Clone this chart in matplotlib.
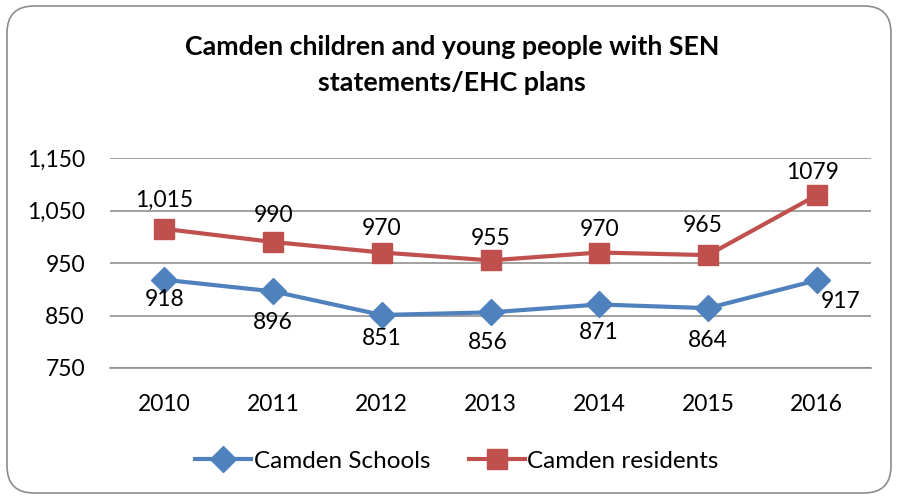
import matplotlib.pyplot as plt
from matplotlib.patches import FancyBboxPatch

plt.rcParams['font.family'] = ['Lato', 'DejaVu Sans']

# data
years = ['2010', '2011', '2012', '2013', '2014', '2015', '2016']
schools = [918, 896, 851, 856, 871, 864, 917]
residents = [1015, 990, 970, 955, 970, 965, 1079]
resident_labels = ['1,015', '990', '970', '955', '970', '965', '1079']
y_ticks = [750, 850, 950, 1050, 1150]
y_tick_labels = ['750', '850', '950', '1,050', '1,150']

# label offsets in pixels (dx, dy)
school_offsets = [(0, -20), (0, -31), (0, -24), (-3, -30), (0, -28), (0, -32), (24, -21)]
resident_offsets = [(0, 29), (0, 27), (0, 24), (0, 22), (0, 23), (-5, 30), (-4, 23)]

blue = '#4F81BD'
red = '#C0504D'
grid = '#888888'
fs = 16.5

fig = plt.figure(figsize=(9.01, 4.96), dpi=100)
ax = fig.add_axes([110 / 901, 1 - 368 / 496, 761 / 901, 210 / 496])

x = list(range(len(years)))
ax.plot(x, schools, color=blue, lw=3, marker='D', ms=13, label='Camden Schools', zorder=3)
ax.plot(x, residents, color=red, lw=3, marker='s', ms=14, label='Camden residents', zorder=3)

for i, v in enumerate(schools):
    ax.annotate(str(v), (i, v), xytext=school_offsets[i], textcoords='offset pixels',
                ha='center', va='center', fontsize=fs)
for i, v in enumerate(residents):
    ax.annotate(resident_labels[i], (i, v), xytext=resident_offsets[i], textcoords='offset pixels',
                ha='center', va='center', fontsize=fs)

ax.set_xlim(-0.5, 6.5)
ax.set_ylim(750, 1150)
ax.set_yticks(y_ticks)
ax.set_yticklabels(y_tick_labels)
ax.set_xticks(x)
ax.set_xticklabels(years)
ax.tick_params(length=0, labelsize=fs)
ax.tick_params(axis='y', pad=18)
ax.tick_params(axis='x', pad=19)
ax.grid(axis='y', color=grid, lw=1.1)
ax.set_axisbelow(True)
for s in ['top', 'right', 'left']:
    ax.spines[s].set_visible(False)
ax.spines['bottom'].set_color(grid)
ax.spines['bottom'].set_linewidth(1.1)

fig.text(452 / 901, 1 - 47 / 496, 'Camden children and young people with SEN',
         ha='center', va='center', fontsize=19.3, fontweight='bold')
fig.text(452 / 901, 1 - 83 / 496, 'statements/EHC plans',
         ha='center', va='center', fontsize=19.3, fontweight='bold')

fig.legend(loc='center', bbox_to_anchor=(457 / 901, 1 - 461 / 496), ncol=2, frameon=False,
           fontsize=17.5, handlelength=2.3, handletextpad=0.1, columnspacing=1.6)

# rounded chart border
frame = FancyBboxPatch((0.07, 0.03), 8.84, 4.87, boxstyle='round,pad=0,rounding_size=0.27',
                       transform=fig.dpi_scale_trans, fill=False, ec='#8c8c8c', lw=1.2)
fig.patches.append(frame)

fig.savefig('out.png', dpi=100)
